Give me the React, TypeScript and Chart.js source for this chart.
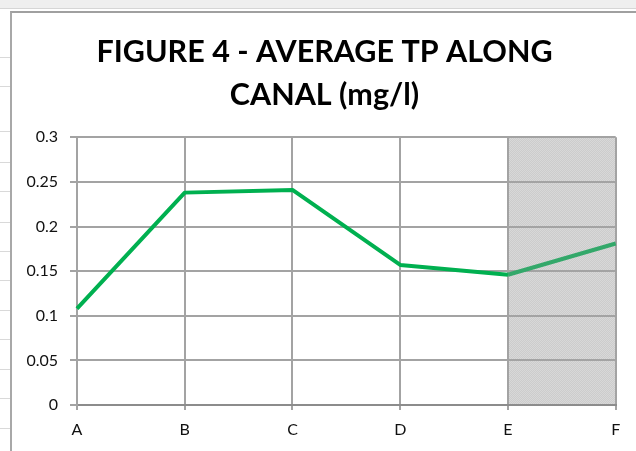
import React, { useEffect, useRef } from "react";
import { Chart, registerables } from "chart.js";

Chart.register(...registerables);

const categories = ["A", "B", "C", "D", "E", "F"];
const tpValues = [0.108, 0.238, 0.241, 0.157, 0.146, 0.181];
const titleLines = ["FIGURE 4 - AVERAGE TP ALONG", "CANAL (mg/l)"];
const yMin = 0;
const yMax = 0.3;
const yStep = 0.05;
const shadedFrom = "E";
const shadedTo = "F";
const sheetRowLines = [57, 86, 131, 161.5, 191, 221.5, 251, 280, 310, 339, 369, 398, 427.5];

const shadePlugin = {
  id: "shadeRegion",
  beforeDraw(chart: any) {
    const { ctx, chartArea, scales } = chart;
    const x = scales.x;
    const x0 = x.getPixelForValue(categories.indexOf(shadedFrom));
    const x1 = x.getPixelForValue(categories.indexOf(shadedTo));
    const pc = document.createElement("canvas");
    pc.width = 2;
    pc.height = 2;
    const p = pc.getContext("2d")!;
    p.fillStyle = "#d8d8d8";
    p.fillRect(0, 0, 2, 2);
    p.fillStyle = "#cccccc";
    p.fillRect(0, 0, 1, 1);
    p.fillRect(1, 1, 1, 1);
    const pattern = ctx.createPattern(pc, "repeat");
    ctx.save();
    ctx.fillStyle = pattern || "#d4d4d4";
    ctx.fillRect(x0, chartArea.top, x1 - x0, chartArea.bottom - chartArea.top);
    ctx.restore();
  },
};

const titlePlugin = {
  id: "centeredTitle",
  afterDraw(chart: any) {
    const { ctx, width } = chart;
    ctx.save();
    ctx.fillStyle = "#000000";
    ctx.font = "bold 30.5px Lato";
    ctx.textAlign = "center";
    ctx.textBaseline = "alphabetic";
    const baselines = [47.7, 91.2];
    titleLines.forEach((t, i) => ctx.fillText(t, width / 2, baselines[i]));
    ctx.restore();
  },
};

function LineChart() {
  const ref = useRef<HTMLCanvasElement | null>(null);
  useEffect(() => {
    if (!ref.current) return;
    const chart = new Chart(ref.current, {
      type: "line",
      data: {
        labels: categories,
        datasets: [
          {
            data: tpValues,
            borderColor: "#00b050",
            borderWidth: 4,
            pointRadius: 0,
            tension: 0,
            borderJoinStyle: "round",
            segment: {
              borderColor: (c: any) =>
                c.p0DataIndex >= categories.indexOf(shadedFrom) ? "#33a86a" : undefined,
            },
          } as any,
        ],
      },
      options: {
        animation: false,
        responsive: false,
        maintainAspectRatio: false,
        layout: { padding: { left: 0, right: 20.3, top: 123.3, bottom: 0 } },
        plugins: {
          legend: { display: false },
          tooltip: { enabled: false },
          title: { display: false },
        },
        scales: {
          x: {
            type: "category",
            offset: false,
            afterFit: (s: any) => {
              s.height = 46;
            },
            grid: {
              color: "#a3a3a3",
              lineWidth: 2,
              tickLength: 5,
              drawTicks: true,
            },
            border: { color: "#8c8c8c", width: 2 },
            ticks: {
              color: "#111111",
              font: { family: "Lato", size: 16 },
              padding: 10,
              maxRotation: 0,
            },
          },
          y: {
            min: yMin,
            max: yMax,
            afterFit: (s: any) => {
              s.width = 64;
            },
            grid: {
              color: "#a3a3a3",
              lineWidth: 2,
              tickLength: 7,
              drawTicks: true,
            },
            border: { color: "#a3a3a3", width: 2 },
            ticks: {
              stepSize: yStep,
              color: "#111111",
              font: { family: "Lato", size: 16 },
              padding: 12,
              callback: (v: any) => String(Number(Number(v).toFixed(2))),
            },
          },
        },
      },
      plugins: [shadePlugin, titlePlugin],
    } as any);
    return () => chart.destroy();
  }, []);
  return <canvas ref={ref} width={623} height={437} style={{ display: "block", width: 623, height: 437 }} />;
}

export default function App() {
  return (
    <div
      style={{
        position: "fixed",
        left: 0,
        top: 0,
        width: 636,
        height: 451,
        background: "#ffffff",
        overflow: "hidden",
      }}
    >
      <div
        style={{
          position: "absolute",
          left: 0,
          top: 0,
          width: 636,
          height: 8,
          background: "#efefef",
          borderBottom: "1px solid #d6d6d6",
        }}
      />
      {sheetRowLines.map((y, i) => (
        <div
          key={i}
          style={{
            position: "absolute",
            left: 0,
            top: Math.round(y),
            width: 10,
            height: 1,
            background: "#d9d9d9",
          }}
        />
      ))}
      <div
        style={{
          position: "absolute",
          left: 10,
          top: 11,
          width: 640,
          height: 450,
          borderLeft: "2px solid #a8a8a8",
          borderTop: "2px solid #a0a0a0",
          background: "#ffffff",
        }}
      />
      <div style={{ position: "absolute", left: 13, top: 14 }}>
        <LineChart />
      </div>
    </div>
  );
}
